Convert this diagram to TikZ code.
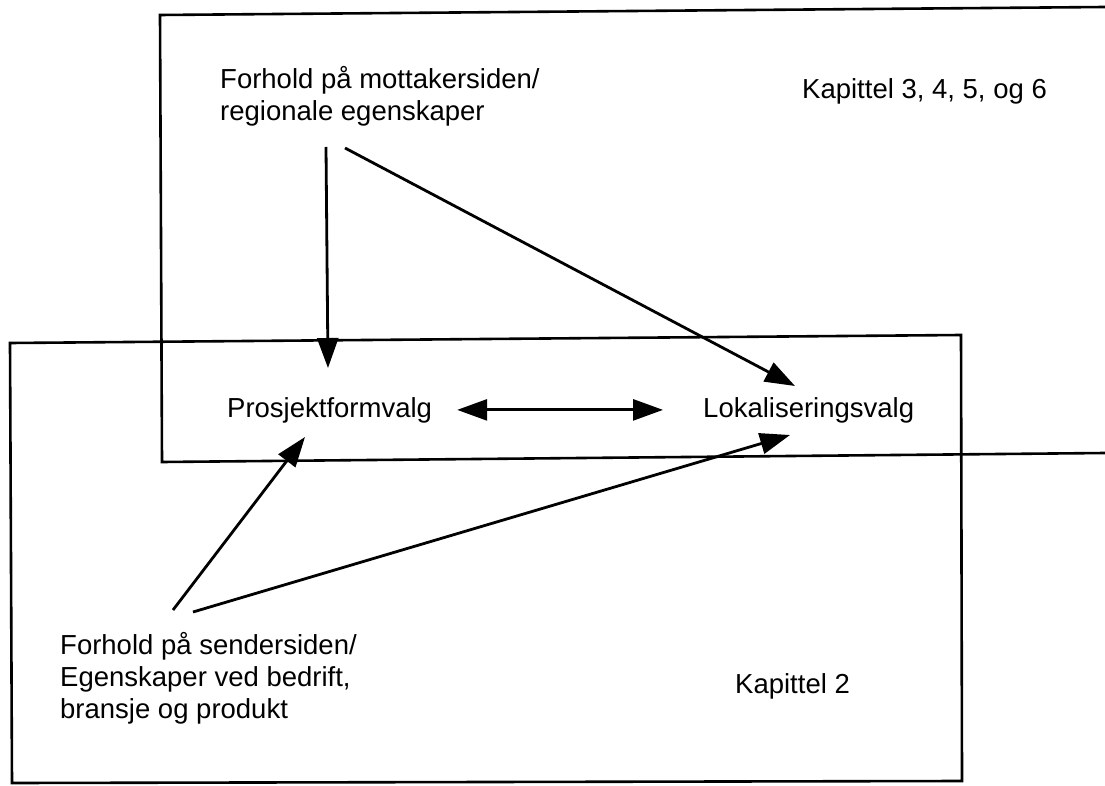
\documentclass[tikz,border=0pt]{standalone}
\usepackage{fontspec}
\setmainfont{Liberation Sans}
\usetikzlibrary{arrows.meta}
\begin{document}
\begin{tikzpicture}[x=1pt,y=-1pt,
  frame/.style={line width=2.6pt, line join=miter},
  txt/.style={inner sep=0pt, font=\fontsize{27.5}{32}\selectfont, align=left},
  arr/.style={line width=2.8pt, -{Triangle[length=30pt,width=21pt]}},
  dbl/.style={line width=2.8pt, {Triangle[length=30pt,width=21pt]}-{Triangle[length=30pt,width=21pt]}}]
\useasboundingbox (0,0) rectangle (1105,786);
\fill[white] (0,0) rectangle (1105,786);

% chapter frames: the upper one runs off to the right
\draw[frame] (1105,7) -- (160,15) -- (162,462) -- (1105,453);
\draw[frame] (10,343) -- (961,335) -- (962,781) -- (12,783) -- cycle;

% texts
\node[txt, anchor=north west] (mott) at (220,66) {Forhold på mottakersiden/\\regionale egenskaper};
\node[txt, anchor=base west] (kap36) at (802,99) {Kapittel 3, 4, 5, og 6};
\node[txt, anchor=base west] (pros) at (227,417) {Prosjektformvalg};
\node[txt, anchor=base west] (lok) at (703,417) {Lokaliseringsvalg};
\node[txt, anchor=north west] (send) at (60,632) {Forhold på sendersiden/\\Egenskaper ved bedrift,\\bransje og produkt};
\node[txt, anchor=base west] (kap2) at (735,693) {Kapittel 2};

% influences
\draw[arr] ([xshift=106pt,yshift=-81pt]mott.north west) -- ([xshift=101pt,yshift=49pt]pros.base west);
\draw[arr] ([xshift=125pt,yshift=-82pt]mott.north west) -- ([xshift=92pt,yshift=31pt]lok.base west);
\draw[dbl] ([xshift=25pt]pros.east) -- ([xshift=-40pt]lok.west);
\draw[arr] ([xshift=113pt,yshift=22pt]send.north west) -- ([xshift=78pt,yshift=-20pt]pros.base west);
\draw[arr] ([xshift=133pt,yshift=20pt]send.north west) -- ([xshift=87pt,yshift=-18pt]lok.base west);
\end{tikzpicture}
\end{document}
